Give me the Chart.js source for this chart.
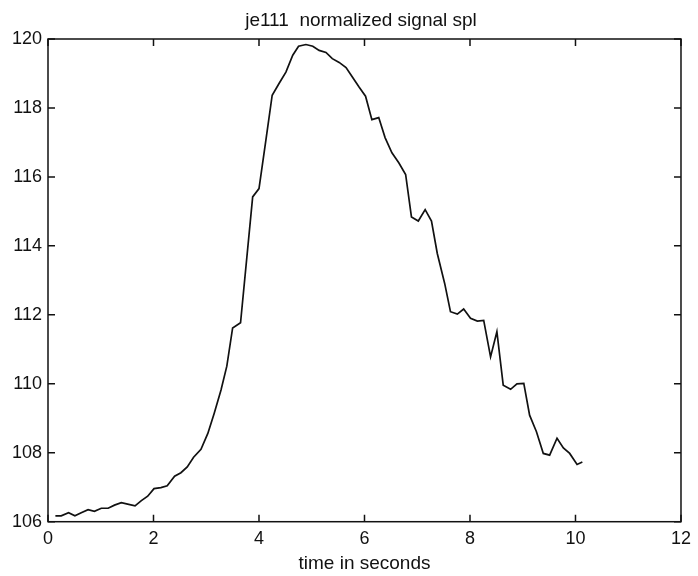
<!DOCTYPE html>
<html>
<head>
<meta charset="utf-8">
<script src="https://cdn.jsdelivr.net/npm/chart.js@4/dist/chart.umd.min.js"></script>
<style>
  html, body { margin: 0; padding: 0; background: #fff; }
  #wrap { width: 698px; height: 576px; }
</style>
</head>
<body>
<div id="wrap"><canvas id="chart" width="698" height="576"></canvas></div>
<script>
// time (s) and normalized signal spl
const timeSec = [
  0.14, 0.25, 0.39, 0.51, 0.63, 0.76, 0.88, 1.01, 1.14, 1.26, 1.39, 1.51, 1.65, 1.77, 1.89,
  2.01, 2.14, 2.26, 2.40, 2.52, 2.64, 2.76, 2.90, 3.03, 3.15, 3.28, 3.39, 3.50, 3.65, 3.88,
  4.00, 4.13, 4.25, 4.38, 4.51, 4.64, 4.75, 4.89, 5.02, 5.14, 5.27, 5.39, 5.52, 5.65, 5.77,
  5.90, 6.02, 6.14, 6.27, 6.39, 6.52, 6.65, 6.78, 6.89, 7.02, 7.15, 7.27, 7.38, 7.52, 7.63,
  7.76, 7.88, 8.01, 8.14, 8.26, 8.39, 8.51, 8.63, 8.77, 8.89, 9.02, 9.13, 9.26, 9.39, 9.51,
  9.65, 9.77, 9.89, 10.03, 10.13
];
const splValues = [
  106.17, 106.17, 106.26, 106.17, 106.26, 106.35, 106.30, 106.39, 106.39, 106.48, 106.55, 106.51, 106.46, 106.61, 106.74,
  106.96, 106.99, 107.04, 107.32, 107.42, 107.59, 107.87, 108.10, 108.56, 109.14, 109.82, 110.51, 111.62, 111.77, 115.42,
  115.66, 117.06, 118.37, 118.71, 119.04, 119.53, 119.79, 119.84, 119.79, 119.67, 119.61, 119.43, 119.32, 119.17, 118.90,
  118.60, 118.34, 117.66, 117.72, 117.14, 116.70, 116.41, 116.07, 114.84, 114.72, 115.05, 114.72, 113.78, 112.91, 112.09,
  112.02, 112.17, 111.90, 111.82, 111.84, 110.78, 111.51, 109.96, 109.84, 110.00, 110.01, 109.09, 108.61, 107.98, 107.93,
  108.42, 108.14, 107.98, 107.66, 107.73
];
const xTicks = [0, 2, 4, 6, 8, 10, 12];
const yTicks = [106, 108, 110, 112, 114, 116, 118, 120];
const chartTitle = "je111  normalized signal spl";

const FONT = "Liberation Sans, Arial, Helvetica, sans-serif";

// box round the plot area, short inward ticks on all four sides, title over the plot
const boxTicks = {
  id: "boxTicks",
  afterDraw(chart) {
    const { ctx, chartArea: a, scales } = chart;
    const len = 7;
    ctx.save();
    ctx.strokeStyle = "#111";
    ctx.lineWidth = 1.5;
    ctx.strokeRect(a.left, a.top, a.right - a.left, a.bottom - a.top);
    ctx.beginPath();
    xTicks.forEach((v) => {
      const px = scales.x.getPixelForValue(v);
      ctx.moveTo(px, a.bottom); ctx.lineTo(px, a.bottom - len);
      ctx.moveTo(px, a.top); ctx.lineTo(px, a.top + len);
    });
    yTicks.forEach((v) => {
      const py = scales.y.getPixelForValue(v);
      ctx.moveTo(a.left, py); ctx.lineTo(a.left + len, py);
      ctx.moveTo(a.right, py); ctx.lineTo(a.right - len, py);
    });
    ctx.stroke();

    ctx.fillStyle = "#111";
    ctx.font = `19px ${FONT}`;
    ctx.textAlign = "center";
    ctx.textBaseline = "alphabetic";
    ctx.fillText(chartTitle, (a.left + a.right) / 2 - 3.5, 26);
    ctx.restore();
  },
};

function main() {
  const points = timeSec.map((t, i) => ({ x: t, y: splValues[i] }));

  new Chart(document.getElementById("chart"), {
    type: "line",
    data: {
      datasets: [{
        data: points,
        borderColor: "#111",
        borderWidth: 1.7,
        pointRadius: 0,
        tension: 0,
        fill: false,
      }],
    },
    options: {
      responsive: false,
      animation: false,
      layout: { padding: { left: 0, right: 15.5, top: 39, bottom: 0 } },
      plugins: {
        legend: { display: false },
        tooltip: { enabled: false },
        title: { display: false },
      },
      scales: {
        x: {
          type: "linear",
          min: 0,
          max: 12,
          afterBuildTicks: (s) => { s.ticks = xTicks.map((v) => ({ value: v })); },
          afterFit: (s) => { s.height = 54.3; },
          grid: { display: false, drawTicks: false },
          border: { display: false },
          ticks: { color: "#111", font: { family: FONT, size: 18 }, padding: 7 },
          title: {
            display: true,
            text: "time in seconds",
            color: "#111",
            font: { family: FONT, size: 19 },
            padding: { top: 0, bottom: 1 },
          },
        },
        y: {
          type: "linear",
          min: 106,
          max: 120,
          afterBuildTicks: (s) => { s.ticks = yTicks.map((v) => ({ value: v })); },
          afterFit: (s) => { s.width = 48; },
          grid: { display: false, drawTicks: false },
          border: { display: false },
          ticks: { color: "#111", font: { family: FONT, size: 18 }, padding: 6 },
        },
      },
    },
    plugins: [boxTicks],
  });
}

document.addEventListener("DOMContentLoaded", main);
</script>
</body>
</html>
